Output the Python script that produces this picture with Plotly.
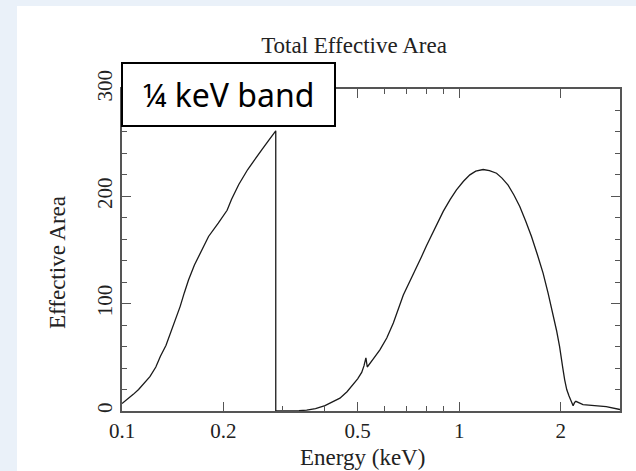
import math
import plotly.graph_objects as go

# ---- data ----
energy_soft = [0.100, 0.104, 0.108, 0.112, 0.116, 0.121, 0.126, 0.130, 0.135, 0.1406,
               0.1449, 0.1488, 0.1530, 0.1575, 0.1640, 0.1706, 0.1806, 0.193, 0.205, 0.2112,
               0.222, 0.236, 0.248, 0.260, 0.272, 0.2858, 0.2858]
area_soft = [7, 11, 15.5, 20, 25, 32, 41, 51, 61, 76,
             86, 97.5, 110, 122, 136, 147, 162.6, 175, 187, 197,
             211, 225, 235, 243.5, 252, 261, 0]

energy_hard = [0.2858, 0.300, 0.315, 0.335, 0.353, 0.375, 0.400, 0.420, 0.443, 0.465,
               0.486, 0.500, 0.514, 0.522, 0.529, 0.534, 0.555, 0.582, 0.610, 0.638,
               0.683, 0.715, 0.748, 0.774, 0.800, 0.828, 0.860, 0.897, 0.940, 0.982,
               1.030, 1.076, 1.120, 1.178, 1.230, 1.291, 1.340, 1.397, 1.455, 1.513,
               1.575, 1.639, 1.705, 1.774, 1.835, 1.898, 1.945, 1.986, 2.010, 2.030,
               2.056, 2.085, 2.118, 2.150, 2.178, 2.200, 2.220, 2.330, 2.730, 3.000]
area_hard = [0, 0, 0, 0.3, 0.8, 2.3, 5, 8, 12, 18,
             25, 30, 36, 42, 49.5, 41, 48, 57, 68, 82,
             108, 121, 133, 144, 154, 164, 175, 186, 197, 206,
             214, 220, 223.5, 225, 224, 221.5, 217, 210.5, 201, 190.5,
             177, 162.5, 146, 128.5, 110, 91, 75, 60, 51, 40,
             29, 20, 14, 9, 5, 8, 9, 6, 4, 1.4]

x_tick_vals = [0.1, 0.2, 0.5, 1, 2]
x_tick_text = ["0.1", "0.2", "0.5", "1", "2"]
x_minor_vals = [0.3, 0.4, 0.6, 0.7, 0.8, 0.9, 3]
y_tick_vals = [0, 100, 200, 300]

title_text = "Total Effective Area"
x_title = "Energy (keV)"
y_title = "Effective Area"
band_label = "¼ keV band"

# ---- layout geometry (pixels) ----
W, H = 636, 471
L, R, T, B = 122, 16, 89, 60
pw, ph = W - L - R, H - T - B

def px_x(px):
    return (px - L) / pw

def px_y(py):
    return (H - B - py) / ph

line_col = "#555555"
text_col = "#222222"
slide_blue = "#eaf1f9"
serif = "Liberation Serif, Times New Roman, serif"

fig = go.Figure()
for xs, ys in [(energy_soft, area_soft), (energy_hard, area_hard)]:
    fig.add_trace(go.Scatter(x=xs, y=ys, mode="lines",
                             line=dict(color="#1a1a1a", width=1.3),
                             showlegend=False, hoverinfo="skip"))

fig.update_layout(
    width=W, height=H,
    margin=dict(l=L, r=R, t=T, b=B),
    paper_bgcolor="white",
    plot_bgcolor="white",
    font=dict(family=serif, color=text_col, size=21),
    title=dict(text=title_text, x=354 / W, xanchor="center",
               y=1 - 45 / H, yanchor="middle",
               font=dict(family=serif, size=23, color=text_col)),
    showlegend=False,
)

fig.update_xaxes(
    type="log", range=[-1, math.log10(3)],
    tickmode="array", tickvals=x_tick_vals, ticktext=x_tick_text,
    ticks="inside", ticklen=9, tickwidth=1.2, tickcolor=line_col,
    minor=dict(tickmode="array", tickvals=x_minor_vals, ticks="inside",
               ticklen=5, tickwidth=1.2, tickcolor=line_col, showgrid=False),
    showline=True, linecolor=line_col, linewidth=1.6, mirror="ticks",
    showgrid=False, zeroline=False,
    tickfont=dict(size=21, family=serif, color=text_col),
)
fig.update_yaxes(
    range=[0, 300], tickmode="array", tickvals=y_tick_vals,
    ticks="inside", ticklen=9, tickwidth=1.2, tickcolor=line_col,
    minor=dict(dtick=20, ticks="inside", ticklen=5, tickwidth=1.2,
               tickcolor=line_col, showgrid=False),
    showline=True, linecolor=line_col, linewidth=1.6, mirror="ticks",
    showgrid=False, zeroline=False, tickangle=-90,
    tickfont=dict(size=21, family=serif, color=text_col),
)

# axis titles placed as annotations
fig.add_annotation(xref="paper", yref="paper", x=px_x(362), y=px_y(457),
                   xanchor="center", yanchor="middle", showarrow=False,
                   text=x_title, font=dict(family=serif, size=23, color=text_col))
fig.add_annotation(xref="paper", yref="paper", x=px_x(57), y=px_y(263),
                   xanchor="center", yanchor="middle", showarrow=False,
                   textangle=-90,
                   text=y_title, font=dict(family=serif, size=23, color=text_col))

# light-blue slide edges (left and top strips)
fig.add_shape(type="rect", xref="paper", yref="paper",
              x0=px_x(0), x1=px_x(17), y0=px_y(H), y1=px_y(0),
              fillcolor=slide_blue, line=dict(width=0), layer="below")
fig.add_shape(type="rect", xref="paper", yref="paper",
              x0=px_x(0), x1=px_x(W), y0=px_y(6), y1=px_y(0),
              fillcolor=slide_blue, line=dict(width=0), layer="below")

# "¼ keV band" callout box
fig.add_annotation(xref="paper", yref="paper", x=px_x(121), y=px_y(62),
                   xanchor="left", yanchor="top", showarrow=False,
                   text=band_label, width=211, height=61, align="center",
                   valign="middle",
                   font=dict(family="Noto Sans, Open Sans, sans-serif", size=32,
                             color="black"),
                   bgcolor="white", bordercolor="black", borderwidth=2,
                   borderpad=0)

fig.write_html("out.html")
